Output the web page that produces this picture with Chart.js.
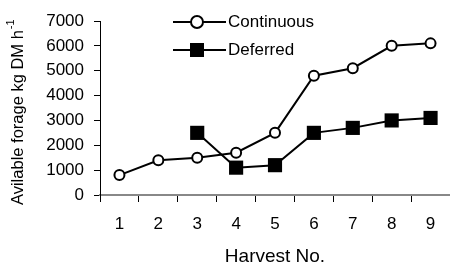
<!DOCTYPE html>
<html>
<head>
<meta charset="utf-8">
<script src="https://cdn.jsdelivr.net/npm/chart.js@4"></script>
<style>
  html, body { margin: 0; padding: 0; background: #fff; overflow: hidden; }
  #wrap { position: relative; width: 460px; height: 268px; }
</style>
</head>
<body>
<div id="wrap"><canvas id="forageChart"></canvas></div>
<script>
// --- data ---
const harvests = ['1', '2', '3', '4', '5', '6', '7', '8', '9'];
const continuous = [800, 1400, 1500, 1700, 2500, 4800, 5100, 6000, 6100];
const deferred = [null, null, 2500, 1100, 1200, 2500, 2700, 3000, 3100];
const yTicks = [0, 1000, 2000, 3000, 4000, 5000, 6000, 7000];

const FONT = 'Liberation Sans, Arial, sans-serif';

// legend (line through marker) + rotated y title with superscript
const decorations = {
    id: 'decorations',
    afterDraw(chart) {
        const ctx = chart.ctx;
        ctx.save();
        ctx.strokeStyle = '#000';
        ctx.lineWidth = 2;
        ctx.font = '17px ' + FONT;
        ctx.textBaseline = 'middle';
        ctx.fillStyle = '#000';

        // Continuous
        ctx.beginPath(); ctx.moveTo(173, 22); ctx.lineTo(226, 22); ctx.stroke();
        ctx.beginPath(); ctx.arc(197, 22, 6, 0, Math.PI * 2);
        ctx.fillStyle = '#fff'; ctx.fill(); ctx.stroke();
        ctx.fillStyle = '#000';
        ctx.fillText('Continuous', 228, 22);

        // Deferred
        ctx.beginPath(); ctx.moveTo(173, 50); ctx.lineTo(226, 50); ctx.stroke();
        ctx.fillRect(190, 43, 14, 14);
        ctx.fillText('Deferred', 228, 50);

        // y title
        ctx.translate(18, 205);
        ctx.rotate(-Math.PI / 2);
        ctx.textBaseline = 'middle';
        ctx.textAlign = 'left';
        ctx.font = '16.5px ' + FONT;
        const main = 'Avilable forage kg DM h';
        ctx.fillText(main, 0, 0);
        const w = ctx.measureText(main).width;
        ctx.font = '11px ' + FONT;
        ctx.fillText('-1', w + 1, -7);
        ctx.restore();
    }
};

new Chart(document.getElementById('forageChart').getContext('2d'), {
    type: 'line',
    data: {
        labels: harvests,
        datasets: [
            {
                label: 'Continuous',
                data: continuous,
                borderColor: '#000',
                borderWidth: 2,
                pointStyle: 'circle',
                pointRadius: 5,
                pointBorderWidth: 2,
                pointBackgroundColor: '#fff',
                pointBorderColor: '#000',
                tension: 0
            },
            {
                label: 'Deferred',
                data: deferred,
                borderColor: '#000',
                borderWidth: 2,
                pointStyle: 'rect',
                pointRadius: 10,
                pointBorderWidth: 0,
                pointBackgroundColor: '#000',
                pointBorderColor: '#000',
                tension: 0
            }
        ]
    },
    options: {
        responsive: true,
        maintainAspectRatio: false,
        animation: false,
        layout: { padding: { top: 21, right: 5.6, left: 0, bottom: 0 } },
        plugins: {
            legend: { display: false },
            tooltip: { enabled: false }
        },
        scales: {
            x: {
                offset: true,
                grid: {
                    offset: true,
                    drawOnChartArea: false,
                    color: '#000',
                    tickLength: 7
                },
                border: { color: '#888', width: 2 },
                ticks: {
                    color: '#000',
                    font: { family: FONT, size: 17 },
                    padding: 12,
                    maxRotation: 0
                },
                title: {
                    display: true,
                    text: 'Harvest No.',
                    color: '#000',
                    font: { family: FONT, size: 19 },
                    padding: { top: 0, bottom: 0 }
                },
                afterFit: s => { s.height = 73; }
            },
            y: {
                min: 0,
                max: 7000,
                afterBuildTicks: s => { s.ticks = yTicks.map(v => ({ value: v })); },
                grid: {
                    drawOnChartArea: false,
                    color: '#000',
                    tickLength: 6
                },
                border: { color: '#000', width: 1 },
                ticks: {
                    color: '#000',
                    font: { family: FONT, size: 17 },
                    padding: 10,
                    callback: v => String(v)
                },
                afterFit: s => { s.width = 100; }
            }
        }
    },
    plugins: [decorations]
});
</script>
</body>
</html>
